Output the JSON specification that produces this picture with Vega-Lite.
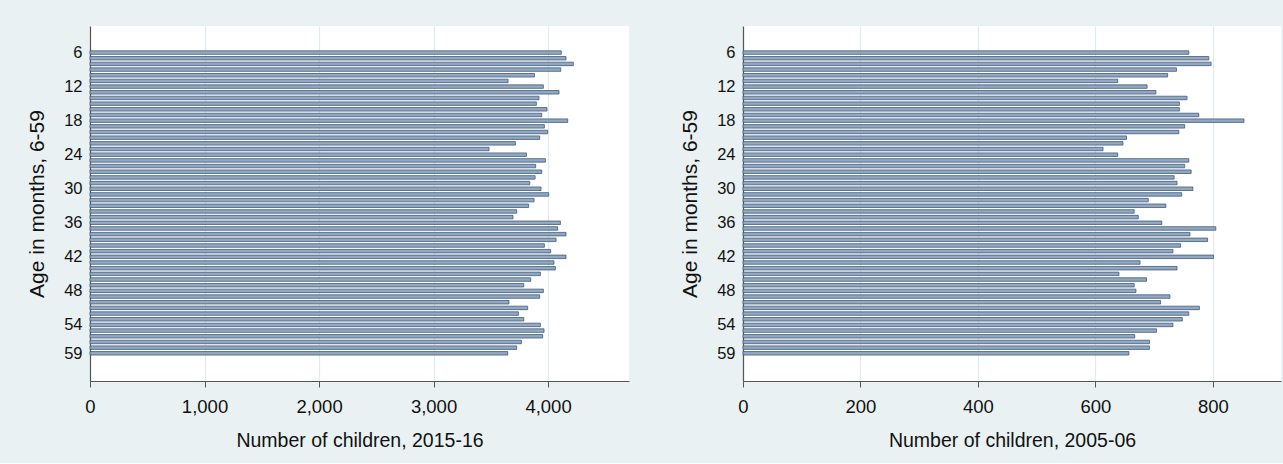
{
  "$schema": "https://vega.github.io/schema/vega-lite/v6.json",
  "background": "#e9f1f3",
  "padding": {"left": 26, "top": 26, "right": 4, "bottom": 13},
  "data": {
    "values": [
      {"age": 6, "n2015": 4116, "n2005": 759},
      {"age": 7, "n2015": 4157, "n2005": 793},
      {"age": 8, "n2015": 4221, "n2005": 797},
      {"age": 9, "n2015": 4111, "n2005": 738},
      {"age": 10, "n2015": 3881, "n2005": 723},
      {"age": 11, "n2015": 3651, "n2005": 638},
      {"age": 12, "n2015": 3959, "n2005": 688},
      {"age": 13, "n2015": 4096, "n2005": 703},
      {"age": 14, "n2015": 3921, "n2005": 756},
      {"age": 15, "n2015": 3898, "n2005": 743},
      {"age": 16, "n2015": 3991, "n2005": 743},
      {"age": 17, "n2015": 3945, "n2005": 776},
      {"age": 18, "n2015": 4172, "n2005": 853},
      {"age": 19, "n2015": 3968, "n2005": 752},
      {"age": 20, "n2015": 3997, "n2005": 742},
      {"age": 21, "n2015": 3927, "n2005": 653},
      {"age": 22, "n2015": 3715, "n2005": 647},
      {"age": 23, "n2015": 3485, "n2005": 613},
      {"age": 24, "n2015": 3811, "n2005": 638},
      {"age": 25, "n2015": 3977, "n2005": 759},
      {"age": 26, "n2015": 3892, "n2005": 752},
      {"age": 27, "n2015": 3945, "n2005": 763},
      {"age": 28, "n2015": 3887, "n2005": 734},
      {"age": 29, "n2015": 3840, "n2005": 739},
      {"age": 30, "n2015": 3939, "n2005": 766},
      {"age": 31, "n2015": 4006, "n2005": 747},
      {"age": 32, "n2015": 3878, "n2005": 690},
      {"age": 33, "n2015": 3831, "n2005": 720},
      {"age": 34, "n2015": 3726, "n2005": 666},
      {"age": 35, "n2015": 3694, "n2005": 673},
      {"age": 36, "n2015": 4108, "n2005": 713},
      {"age": 37, "n2015": 4084, "n2005": 805},
      {"age": 38, "n2015": 4157, "n2005": 761},
      {"age": 39, "n2015": 4070, "n2005": 791},
      {"age": 40, "n2015": 3968, "n2005": 745},
      {"age": 41, "n2015": 4023, "n2005": 732},
      {"age": 42, "n2015": 4157, "n2005": 801},
      {"age": 43, "n2015": 4052, "n2005": 676},
      {"age": 44, "n2015": 4064, "n2005": 739},
      {"age": 45, "n2015": 3933, "n2005": 640},
      {"age": 46, "n2015": 3849, "n2005": 687},
      {"age": 47, "n2015": 3788, "n2005": 666},
      {"age": 48, "n2015": 3959, "n2005": 669},
      {"age": 49, "n2015": 3927, "n2005": 727},
      {"age": 50, "n2015": 3659, "n2005": 711},
      {"age": 51, "n2015": 3822, "n2005": 777},
      {"age": 52, "n2015": 3741, "n2005": 759},
      {"age": 53, "n2015": 3788, "n2005": 748},
      {"age": 54, "n2015": 3933, "n2005": 732},
      {"age": 55, "n2015": 3965, "n2005": 704},
      {"age": 56, "n2015": 3953, "n2005": 667},
      {"age": 57, "n2015": 3767, "n2005": 692},
      {"age": 58, "n2015": 3726, "n2005": 692},
      {"age": 59, "n2015": 3648, "n2005": 657}
    ]
  },
  "spacing": 50,
  "hconcat": [
    {
      "width": 539,
      "height": 355,
      "mark": {"type": "bar", "orient": "horizontal", "size": 3.5, "fill": "#94a7be", "stroke": "#34557a", "strokeWidth": 0.75},
      "encoding": {
        "y": {
          "field": "age", "type": "quantitative",
          "scale": {"domain": [2.2, 63], "reverse": true, "nice": false, "zero": false},
          "axis": {"title": "Age in months, 6-59", "values": [6, 12, 18, 24, 30, 36, 42, 48, 54, 59], "grid": false, "ticks": false, "labelPadding": 8, "labelFontSize": 16.5, "titleFontSize": 21, "titlePadding": 16}
        },
        "x": {
          "field": "n2015", "type": "quantitative",
          "scale": {"domain": [0, 4707], "nice": false},
          "axis": {"title": "Number of children, 2015-16", "values": [0, 1000, 2000, 3000, 4000], "format": ",d", "labelFontSize": 18.5, "titleFontSize": 19.5, "tickSize": 6, "labelPadding": 10, "titlePadding": 16, "labelFlush": false}
        }
      }
    },
    {
      "width": 538,
      "height": 355,
      "mark": {"type": "bar", "orient": "horizontal", "size": 3.5, "fill": "#94a7be", "stroke": "#34557a", "strokeWidth": 0.75},
      "encoding": {
        "y": {
          "field": "age", "type": "quantitative",
          "scale": {"domain": [2.2, 63], "reverse": true, "nice": false, "zero": false},
          "axis": {"title": "Age in months, 6-59", "values": [6, 12, 18, 24, 30, 36, 42, 48, 54, 59], "grid": false, "ticks": false, "labelPadding": 8, "labelFontSize": 16.5, "titleFontSize": 21, "titlePadding": 16}
        },
        "x": {
          "field": "n2005", "type": "quantitative",
          "scale": {"domain": [0, 916], "nice": false},
          "axis": {"title": "Number of children, 2005-06", "values": [0, 200, 400, 600, 800], "format": ",d", "labelFontSize": 18.5, "titleFontSize": 19.5, "tickSize": 6, "labelPadding": 10, "titlePadding": 16, "labelFlush": false}
        }
      }
    }
  ],
  "config": {
    "view": {"fill": "white", "stroke": null},
    "axis": {
      "labelFont": "Liberation Sans",
      "titleFont": "Liberation Sans",
      "labelColor": "#111111",
      "titleColor": "#111111",
      "titleFontWeight": "normal",
      "domainColor": "#555555",
      "domainWidth": 1.2,
      "tickColor": "#555555",
      "gridColor": "#e1eaee",
      "gridWidth": 1.2
    }
  }
}
